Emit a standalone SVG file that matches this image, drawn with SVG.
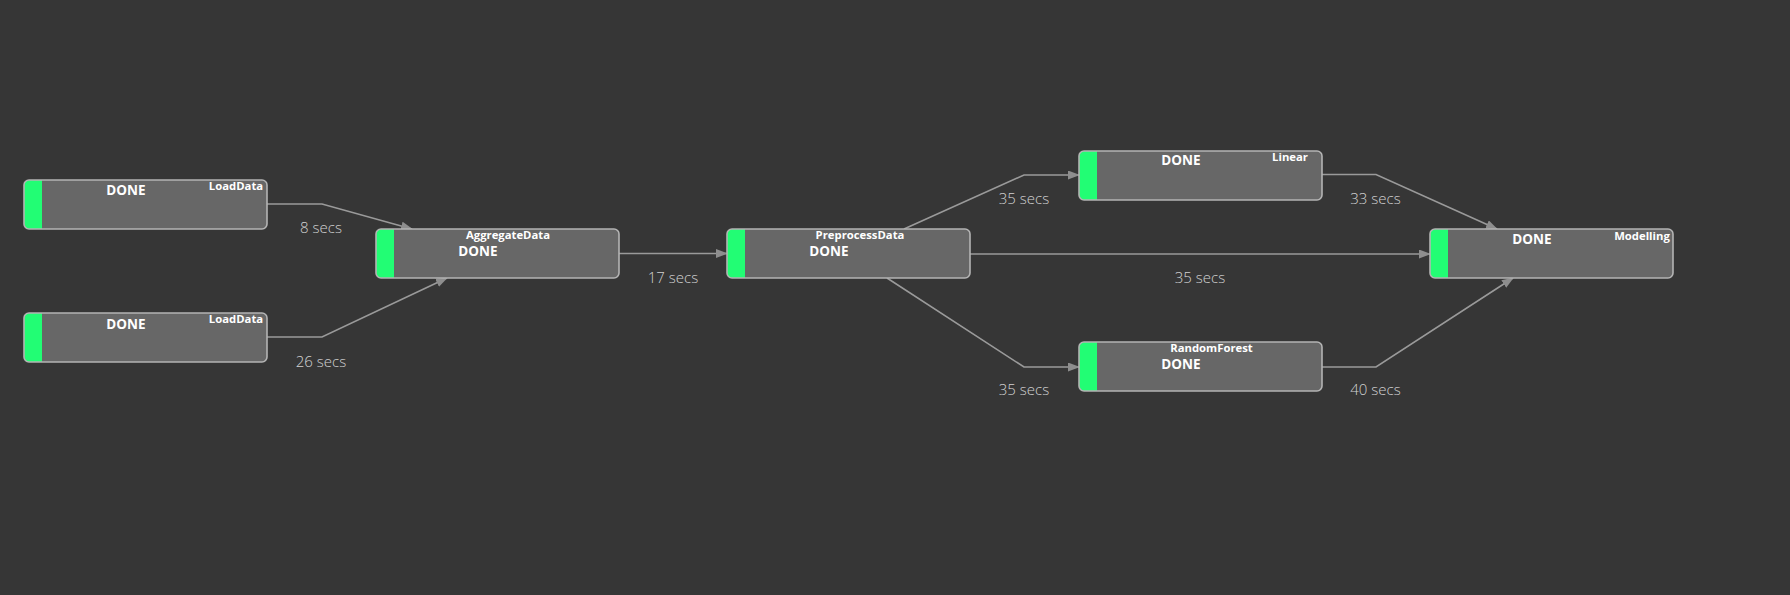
<svg xmlns="http://www.w3.org/2000/svg" width="1790" height="595" viewBox="0 0 1790 595">
<style>
.bg{fill:#363636}
.box{fill:#676767}
.frame{fill:none;stroke:#b4b4b4;stroke-width:1.6}
.bar{fill:#22fd74}
.done{font-family:"Open Sans","Noto Sans",sans-serif;font-weight:700;font-size:13.5px;fill:#ffffff;text-anchor:middle}
.name{font-family:"Open Sans","Noto Sans",sans-serif;font-weight:700;font-size:11.3px;fill:#ffffff;text-anchor:middle}
.edge{fill:none;stroke:#9a9a9a;stroke-width:1.6;marker-end:url(#arr)}
.elab{font-family:"Open Sans","Noto Sans",sans-serif;font-weight:300;font-size:15px;fill:#d2d2d2;text-anchor:middle}
</style>
<defs>
<marker id="arr" markerUnits="userSpaceOnUse" markerWidth="12" markerHeight="10" refX="11" refY="4.5" orient="auto">
<path d="M0,0 L12,4.5 L0,9 z" fill="#8e8e8e"/>
</marker>
</defs>
<rect class="bg" x="0" y="0" width="1790" height="595"/>
<g id="connectors">
<polyline class="edge" points="266,204 322,204 412,229"/>
<polyline class="edge" points="266,337 322,337 447,278"/>
<polyline class="edge" points="619,253.5 727,253.5"/>
<polyline class="edge" points="904,229 1024,175 1079,175"/>
<polyline class="edge" points="887,278 1024,367 1079,367"/>
<polyline class="edge" points="970,254 1430,254"/>
<polyline class="edge" points="1322,174.5 1376,174.5 1497,229"/>
<polyline class="edge" points="1322,367 1376,367 1513,278"/>
<text class="elab" x="321" y="233">8 secs</text>
<text class="elab" x="321" y="367">26 secs</text>
<text class="elab" x="673" y="283">17 secs</text>
<text class="elab" x="1024" y="203.5">35 secs</text>
<text class="elab" x="1024" y="395">35 secs</text>
<text class="elab" x="1200" y="282.5">35 secs</text>
<text class="elab" x="1375.5" y="203.5">33 secs</text>
<text class="elab" x="1375.5" y="395">40 secs</text>
</g>
<g id="node-loaddata-1">
<rect class="box" x="24" y="180" width="243" height="49" rx="5"/>
<path class="bar" d="M42,180 L29,180 Q24,180 24,185 L24,224 Q24,229 29,229 L42,229 z"/>
<rect class="frame" x="24" y="180" width="243" height="49" rx="5"/>
<text class="done" x="126" y="195">DONE</text>
<text class="name" x="236" y="190">LoadData</text>
</g>
<g id="node-loaddata-2">
<rect class="box" x="24" y="313" width="243" height="49" rx="5"/>
<path class="bar" d="M42,313 L29,313 Q24,313 24,318 L24,357 Q24,362 29,362 L42,362 z"/>
<rect class="frame" x="24" y="313" width="243" height="49" rx="5"/>
<text class="done" x="126" y="328.5">DONE</text>
<text class="name" x="236" y="323">LoadData</text>
</g>
<g id="node-aggregatedata">
<rect class="box" x="376" y="229" width="243" height="49" rx="5"/>
<path class="bar" d="M394,229 L381,229 Q376,229 376,234 L376,273 Q376,278 381,278 L394,278 z"/>
<rect class="frame" x="376" y="229" width="243" height="49" rx="5"/>
<text class="name" x="508" y="239">AggregateData</text>
<text class="done" x="478" y="256">DONE</text>
</g>
<g id="node-preprocessdata">
<rect class="box" x="727" y="229" width="243" height="49" rx="5"/>
<path class="bar" d="M745,229 L732,229 Q727,229 727,234 L727,273 Q727,278 732,278 L745,278 z"/>
<rect class="frame" x="727" y="229" width="243" height="49" rx="5"/>
<text class="name" x="860" y="239">PreprocessData</text>
<text class="done" x="829" y="256">DONE</text>
</g>
<g id="node-linear">
<rect class="box" x="1079" y="151" width="243" height="49" rx="5"/>
<path class="bar" d="M1097,151 L1084,151 Q1079,151 1079,156 L1079,195 Q1079,200 1084,200 L1097,200 z"/>
<rect class="frame" x="1079" y="151" width="243" height="49" rx="5"/>
<text class="done" x="1181" y="165">DONE</text>
<text class="name" x="1290" y="161">Linear</text>
</g>
<g id="node-randomforest">
<rect class="box" x="1079" y="342" width="243" height="49" rx="5"/>
<path class="bar" d="M1097,342 L1084,342 Q1079,342 1079,347 L1079,386 Q1079,391 1084,391 L1097,391 z"/>
<rect class="frame" x="1079" y="342" width="243" height="49" rx="5"/>
<text class="name" x="1211.5" y="352">RandomForest</text>
<text class="done" x="1181" y="368.5">DONE</text>
</g>
<g id="node-modelling">
<rect class="box" x="1430" y="229" width="243" height="49" rx="5"/>
<path class="bar" d="M1448,229 L1435,229 Q1430,229 1430,234 L1430,273 Q1430,278 1435,278 L1448,278 z"/>
<rect class="frame" x="1430" y="229" width="243" height="49" rx="5"/>
<text class="done" x="1532" y="244">DONE</text>
<text class="name" x="1642" y="239.5">Modelling</text>
</g>
</svg>
